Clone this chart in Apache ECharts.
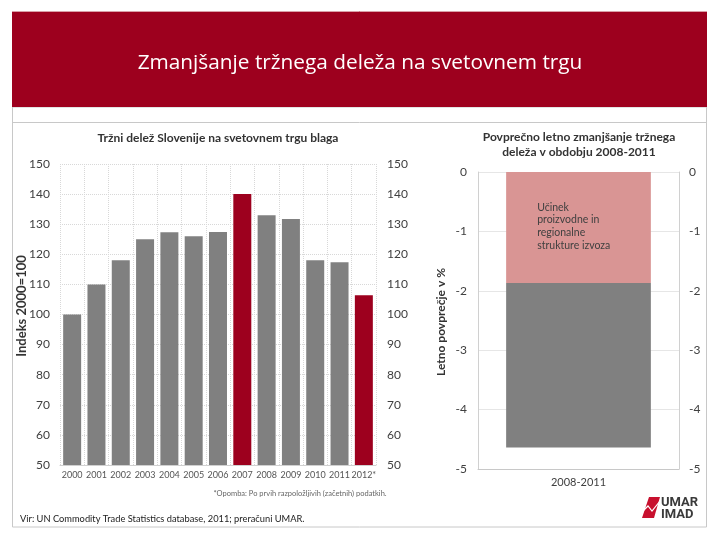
<!DOCTYPE html>
<html>
<head>
<meta charset="utf-8">
<script src="https://cdn.jsdelivr.net/npm/echarts@6/dist/echarts.min.js"></script>
<style>
html,body{margin:0;padding:0;background:#fff;}
#chart{width:720px;height:540px;}
</style>
</head>
<body>
<div id="chart"></div>
<script>
// ---- data ----
var years = ['2000','2001','2002','2003','2004','2005','2006','2007','2008','2009','2010','2011','2012*'];
var shareIndex = [100, 110, 118, 125, 127.3, 126, 127.4, 140, 133, 131.7, 118, 117.4, 106.4];
var highlightYears = ['2007', '2012*'];
var periodCats = ['2008-2011'];
var structureEffect = [-1.87];
var otherEffect = [-2.77];
var leftTicks = {min: 50, max: 150, step: 10};
var rightTicks = {min: -5, max: 0, step: 1};

var RED = '#9d001e';
var GRAY = '#808080';
var PINK = '#d99594';
var FONT = 'Lato';

var barData = shareIndex.map(function (v, i) {
  return {value: v, itemStyle: {color: highlightYears.indexOf(years[i]) >= 0 ? RED : GRAY}};
});

var chart = echarts.init(document.getElementById('chart'), null, {renderer: 'canvas'});

var labelStyle = {color: '#404040', fontFamily: FONT, fontSize: 12};

var option = {
  backgroundColor: '#fff',
  animation: false,
  textStyle: {fontFamily: FONT},
  grid: [
    {left: 60, right: 344, top: 164, bottom: 75},
    {left: 478, right: 41, top: 172, bottom: 71}
  ],
  xAxis: [
    {
      type: 'category', gridIndex: 0, data: years,
      axisLine: {show: true, lineStyle: {color: '#d0d0d0'}},
      axisTick: {show: false},
      axisLabel: {color: '#555', fontSize: 9, fontFamily: FONT, margin: 6, interval: 0},
      splitLine: {show: true, lineStyle: {color: '#d8d8d8', type: 'dotted'}}
    },
    {
      type: 'category', gridIndex: 1, data: periodCats,
      position: 'bottom',
      axisLine: {show: true, onZero: false, lineStyle: {color: '#c8c8c8'}},
      axisTick: {show: false},
      axisLabel: {color: '#404040', fontSize: 11, fontFamily: FONT, margin: 8}
    }
  ],
  yAxis: [
    {
      type: 'value', gridIndex: 0, position: 'left',
      min: leftTicks.min, max: leftTicks.max, interval: leftTicks.step,
      axisLine: {show: false}, axisTick: {show: false},
      axisLabel: Object.assign({margin: 10}, labelStyle),
      splitLine: {show: true, lineStyle: {color: '#d8d8d8', type: 'dotted'}}
    },
    {
      type: 'value', gridIndex: 0, position: 'right',
      min: leftTicks.min, max: leftTicks.max, interval: leftTicks.step,
      axisLine: {show: false}, axisTick: {show: false},
      axisLabel: Object.assign({margin: 11}, labelStyle),
      splitLine: {show: false}
    },
    {
      type: 'value', gridIndex: 1, position: 'left',
      min: rightTicks.min, max: rightTicks.max, interval: rightTicks.step,
      axisLine: {show: true, lineStyle: {color: '#d0d0d0'}}, axisTick: {show: false},
      axisLabel: Object.assign({margin: 11}, labelStyle),
      splitLine: {show: true, lineStyle: {color: '#e6e6e6'}}
    },
    {
      type: 'value', gridIndex: 1, position: 'right',
      min: rightTicks.min, max: rightTicks.max, interval: rightTicks.step,
      axisLine: {show: true, lineStyle: {color: '#d0d0d0'}}, axisTick: {show: false},
      axisLabel: Object.assign({margin: 10}, labelStyle),
      splitLine: {show: false}
    }
  ],
  series: [
    {
      type: 'bar', xAxisIndex: 0, yAxisIndex: 0,
      data: barData, barCategoryGap: '26%'
    },
    {
      type: 'bar', xAxisIndex: 1, yAxisIndex: 2, stack: 'dec',
      data: structureEffect, barWidth: '72%',
      itemStyle: {color: PINK},
      label: {
        show: true, position: [31, 29],
        formatter: 'Učinek\nproizvodne in\nregionalne\nstrukture izvoza',
        color: '#404040', fontSize: 10.5, fontFamily: FONT, lineHeight: 12.7, align: 'left'
      }
    },
    {
      type: 'bar', xAxisIndex: 1, yAxisIndex: 2, stack: 'dec',
      data: otherEffect, barWidth: '72%',
      itemStyle: {color: GRAY}
    }
  ],
  graphic: [
    {type: 'rect', shape: {x: 12, y: 11, width: 695, height: 96}, style: {fill: RED}, z: 0},
    {type: 'line', shape: {x1: 12, y1: 11.5, x2: 707, y2: 11.5}, style: {stroke: '#d9a0a8', lineWidth: 1}},
    {type: 'rect', shape: {x: 12.5, y: 107, width: 694, height: 420}, style: {fill: null, stroke: '#c8c8c8', lineWidth: 1}, z: -1},
    {type: 'line', shape: {x1: 12.5, y1: 122.5, x2: 706.5, y2: 122.5}, style: {stroke: '#c8c8c8', lineWidth: 1}},
    {type: 'text', x: 360, y: 63, style: {text: 'Zmanjšanje tržnega deleža na svetovnem trgu', fill: '#fff', font: '20.8px "Open Sans"', textAlign: 'center', textVerticalAlign: 'middle'}},
    {type: 'text', x: 218, y: 138, style: {text: 'Tržni delež Slovenije na svetovnem trgu blaga', fill: '#333', font: 'bold 12px ' + FONT, textAlign: 'center', textVerticalAlign: 'middle'}},
    {type: 'text', x: 579, y: 137, style: {text: 'Povprečno letno zmanjšanje tržnega', fill: '#333', font: 'bold 12px ' + FONT, textAlign: 'center', textVerticalAlign: 'middle'}},
    {type: 'text', x: 579, y: 152, style: {text: 'deleža v obdobju 2008-2011', fill: '#333', font: 'bold 12px ' + FONT, textAlign: 'center', textVerticalAlign: 'middle'}},
    {type: 'text', x: 22, y: 306, rotation: Math.PI / 2, style: {text: 'Indeks 2000=100', fill: '#333', font: 'bold 13px ' + FONT, textAlign: 'center', textVerticalAlign: 'middle'}},
    {type: 'text', x: 441, y: 322, rotation: Math.PI / 2, style: {text: 'Letno povprečje v %', fill: '#333', font: 'bold 12px ' + FONT, textAlign: 'center', textVerticalAlign: 'middle'}},
    {type: 'text', x: 300, y: 494, style: {text: '*Opomba: Po prvih razpoložljivih (začetnih) podatkih.', fill: '#666', font: '7.5px ' + FONT, textAlign: 'center', textVerticalAlign: 'middle'}},
    {type: 'text', x: 20, y: 519, style: {text: 'Vir: UN Commodity Trade Statistics database, 2011; preračuni UMAR.', fill: '#222', font: '9.3px ' + FONT, textAlign: 'left', textVerticalAlign: 'middle'}},
    {type: 'polygon', shape: {points: [[649, 497], [660, 497], [654, 518], [642, 518]]}, style: {fill: '#c8102e'}},
    {type: 'polyline', shape: {points: [[640, 514], [648, 506], [652, 511], [660, 501]]}, style: {stroke: '#fff', lineWidth: 1.2, fill: null}},
    {type: 'text', x: 661, y: 503, style: {text: 'UMAR', fill: '#3a3a3a', font: 'bold 13px Roboto', textAlign: 'left', textVerticalAlign: 'middle'}},
    {type: 'text', x: 661, y: 515, style: {text: 'IMAD', fill: '#3a3a3a', font: 'bold 13px Roboto', textAlign: 'left', textVerticalAlign: 'middle'}}
  ]
};
chart.setOption(option);
</script>
</body>
</html>
